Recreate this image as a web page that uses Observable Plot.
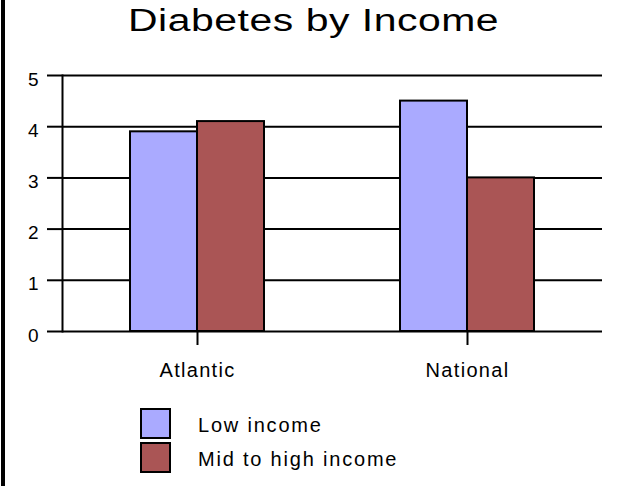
<!DOCTYPE html>
<html>
<head>
<meta charset="utf-8">
<script src="https://cdn.jsdelivr.net/npm/d3@7"></script>
<script src="https://cdn.jsdelivr.net/npm/@observablehq/plot@0.6"></script>
<style>
  body { margin: 0; background: #fff; font-family: "Liberation Sans", Arial, sans-serif; }
  #chart { position: relative; width: 621px; height: 486px; overflow: hidden; background: #fff; }
  #edge { position: absolute; left: 1px; top: 0; width: 4px; height: 486px; background: #000; }
  #title { height: 49px; padding-top: 1px; padding-left: 6px; text-align: center; }
  #title span { display: inline-block; font-size: 31px; line-height: 40px; letter-spacing: 0.4px; transform: scaleX(1.32); color: #000; }
  #plot svg { display: block; }
  #plot [aria-label="fx-axis tick label"] { font-size: 20px; letter-spacing: 1.3px; }
  #legend { position: absolute; left: 140px; top: 408px; }
  .row { display: flex; align-items: center; height: 31px; margin-bottom: 3px; }
  .swatch { width: 31px; height: 31px; box-sizing: border-box; border: 2px solid #000; }
  .label { margin-left: 27px; font-size: 20px; letter-spacing: 1.8px; line-height: 31px; position: relative; top: 2px; color: #000; }
</style>
</head>
<body>
<div id="chart">
  <div id="title"><span>Diabetes by Income</span></div>
  <div id="plot"></div>
  <div id="legend"></div>
  <div id="edge"></div>
</div>
<script>
// Diabetes rate by region and income group
const regions = ["Atlantic", "National"];
const incomes = ["Low income", "Mid to high income"];
const lowIncome = [3.9, 4.5];
const midHighIncome = [4.1, 3.0];
const colors = ["#aaaaff", "#aa5555"];
const yTicks = [0, 1, 2, 3, 4, 5];

const rows = regions.flatMap((region, i) => [
  {region, income: incomes[0], value: lowIncome[i]},
  {region, income: incomes[1], value: midHighIncome[i]}
]);

const chart = Plot.plot({
  width: 621,
  height: 345,
  marginTop: 25,
  marginRight: 19,
  marginBottom: 64,
  marginLeft: 61,
  style: {fontFamily: "'Liberation Sans', Arial, sans-serif", color: "#000", background: "#fff"},
  fx: {domain: regions, padding: 0, label: null},
  x: {domain: incomes, paddingInner: 0, paddingOuter: 1, axis: null},
  y: {domain: [0, 5], label: null},
  color: {domain: incomes, range: colors},
  marks: [
    Plot.ruleY(yTicks, {stroke: "#000", strokeWidth: 2}),
    Plot.frame({anchor: "left", facetAnchor: "left", stroke: "#000", strokeWidth: 2}),
    Plot.barY(rows, {fx: "region", x: "income", y: "value", fill: "income", stroke: "#000", strokeWidth: 2}),
    // tick marks only
    Plot.axisY({ticks: yTicks, tickSize: 15, tickFormat: () => "", strokeWidth: 2, label: null}),
    // tick labels, sitting slightly below their gridlines
    Plot.text(yTicks, {
      y: d => d, text: d => String(d), frameAnchor: "left", textAnchor: "end",
      dx: -24, dy: 4, fontSize: 19, fill: "#000", facetAnchor: "left"
    }),
    Plot.axisFx({anchor: "bottom", tickSize: 14, tickPadding: 17, fontSize: 20, strokeWidth: 2, label: null})
  ]
});
document.getElementById("plot").append(chart);

// Legend: one swatch per income group
const legend = d3.select("#legend");
incomes.forEach((name, i) => {
  const row = legend.append("div").attr("class", "row");
  row.append("div").attr("class", "swatch").style("background", colors[i]);
  row.append("div").attr("class", "label").text(name);
});
</script>
</body>
</html>
